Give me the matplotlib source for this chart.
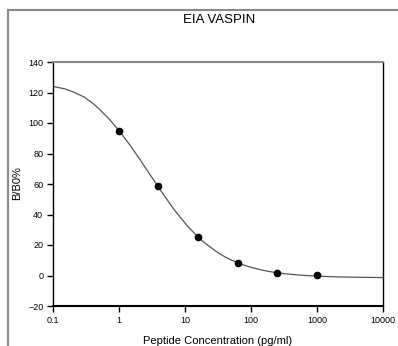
import matplotlib
matplotlib.use("Agg")
import matplotlib.pyplot as plt
from matplotlib.lines import Line2D
from matplotlib.ticker import FixedLocator, NullLocator

plt.rcParams['font.family'] = ['Liberation Sans', 'DejaVu Sans']

# data points (pg/ml, B/B0%)
conc = [1.0, 3.9, 15.6, 62.5, 250, 1000]
bb0 = [95, 58.5, 25.5, 8.4, 1.8, 0.2]

# fitted curve
curve_x = [0.1, 0.15, 0.2, 0.3, 0.4, 0.5, 0.7, 1, 1.5, 2, 2.5, 3, 4, 5, 6, 7, 8, 10,
           12, 15, 20, 30, 40, 50, 70, 100, 150, 200, 300, 500, 1000, 2000, 5000, 10000]
curve_y = [124, 122.4, 120.5, 116.9, 112.9, 109.2, 102.9, 95, 84.9, 77.1, 70.8, 65.7,
           57.6, 51.5, 46.7, 42.7, 39.5, 34.4, 30.5, 26.2, 21.3, 15.6, 12.3, 10.2, 7.55,
           5.34, 3.46, 2.43, 1.33, 0.37, -0.44, -0.9, -1.22, -1.34]

xticks = [0.1, 1, 10, 100, 1000, 10000]
xticklabels = ["0.1", "1", "10", "100", "1000", "10000"]
yticks = [-20, 0, 20, 40, 60, 80, 100, 120, 140]

W, H = 398, 346
fig = plt.figure(figsize=(W / 100, H / 100), dpi=100)
ax = fig.add_axes([53 / W, 1 - 306 / H, (383 - 53) / W, (306 - 62) / H])

ax.plot(curve_x, curve_y, color='#555555', lw=0.9, zorder=2)
ax.plot(conc, bb0, 'o', color='black', ms=4.5, zorder=3)

ax.set_xscale('log')
ax.set_xlim(0.1, 10000)
ax.set_ylim(-20, 140)
ax.xaxis.set_major_locator(FixedLocator(xticks))
ax.xaxis.set_minor_locator(NullLocator())
ax.set_xticklabels(xticklabels)
ax.set_yticks(yticks)
ax.tick_params(axis='both', labelsize=6.5, length=4, width=1, direction='out', pad=3)

for s in ['left', 'right']:
    ax.spines[s].set_color('black')
    ax.spines[s].set_linewidth(1)
ax.spines['bottom'].set_linewidth(1.5)
ax.spines['top'].set_color('#8a8a8a')
ax.spines['top'].set_linewidth(1.5)

fig.text(219 / W, 1 - 20 / H, "EIA VASPIN", ha='center', va='center', fontsize=9.5)
fig.text(17 / W, 1 - 183 / H, "B/B0%", ha='center', va='center', rotation=90, fontsize=8)
fig.text(218 / W, 1 - 336 / H, "Peptide Concentration (pg/ml)", ha='center', va='top', fontsize=8)

# outer frame lines
fig.add_artist(Line2D([8 / W, 8 / W], [0, 1 - 10 / H], transform=fig.transFigure,
                      color='#8a8a8a', lw=1.5))
fig.add_artist(Line2D([8 / W, 1], [1 - 10 / H, 1 - 10 / H], transform=fig.transFigure,
                      color='#8a8a8a', lw=1.5))

fig.savefig("out.png", dpi=100)
